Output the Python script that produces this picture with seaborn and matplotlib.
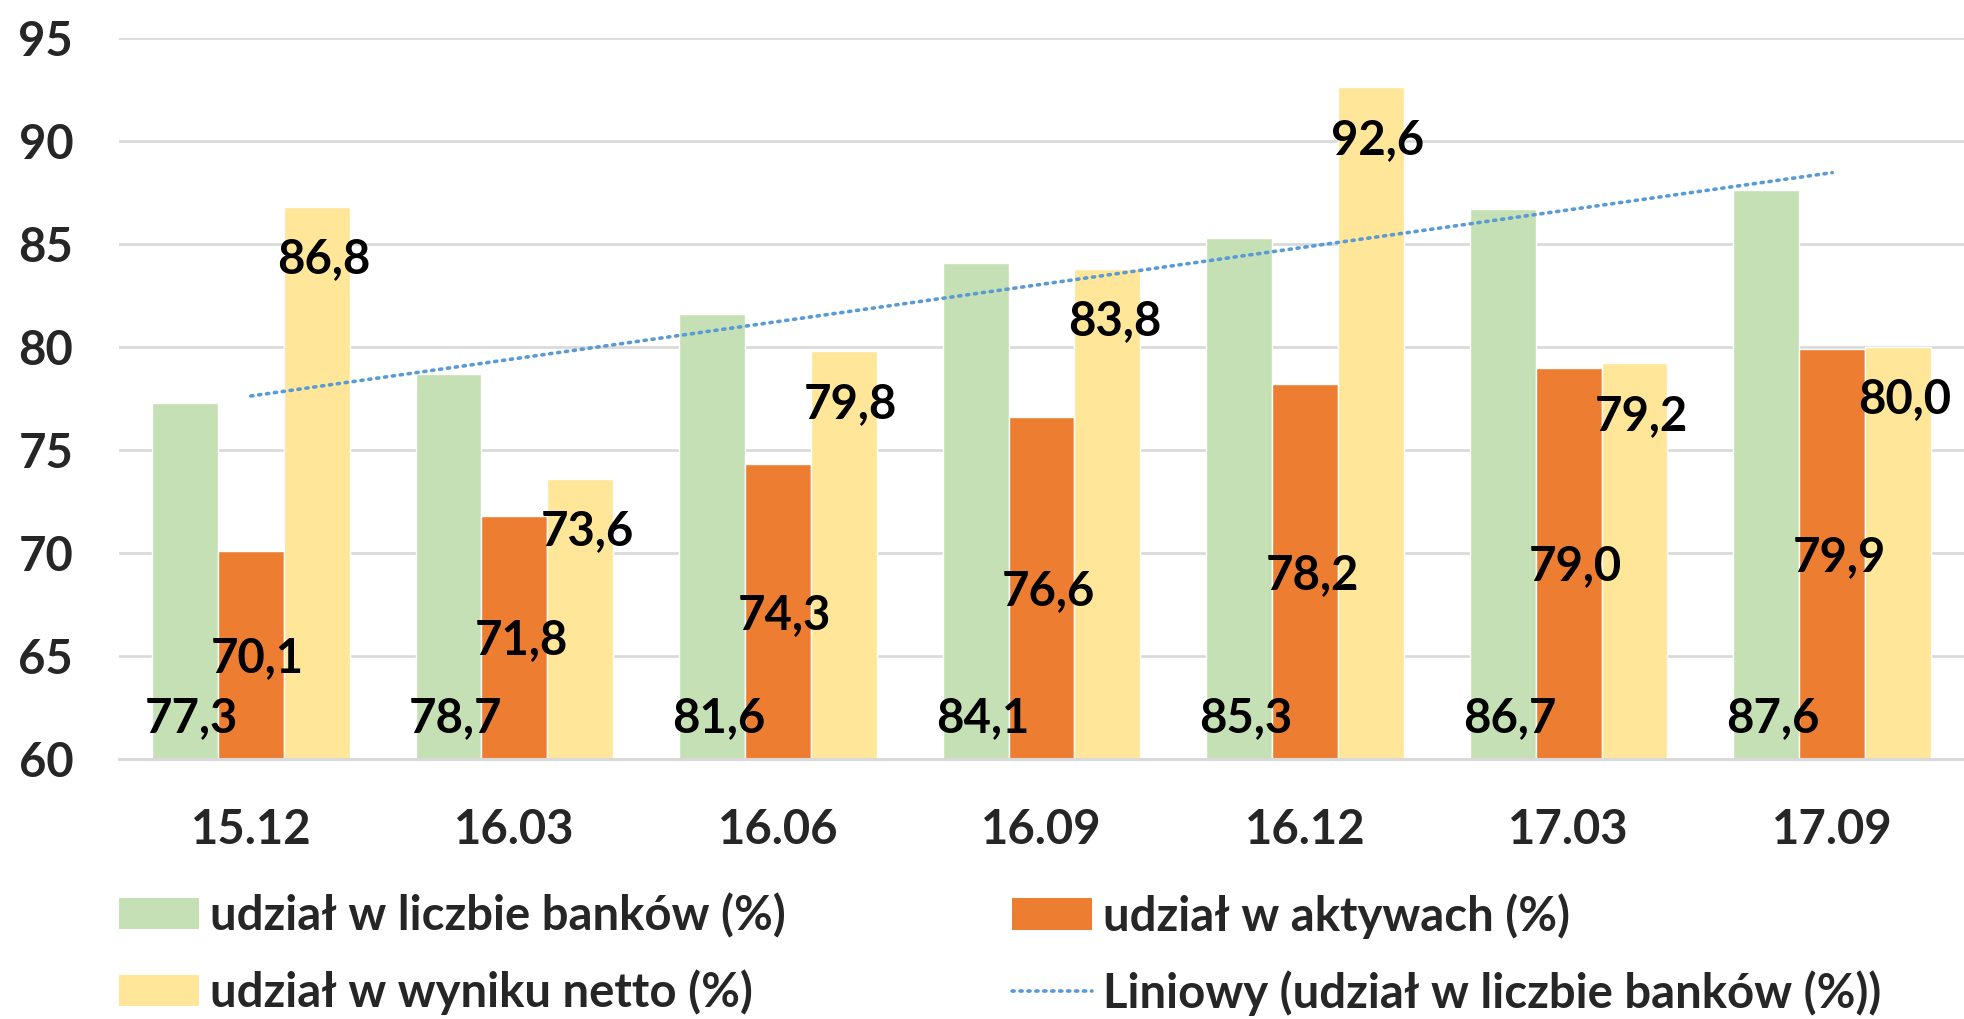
import numpy as np
import pandas as pd
import matplotlib
matplotlib.use('Agg')
import matplotlib.pyplot as plt
import seaborn as sns
from matplotlib.patches import Patch
from matplotlib.lines import Line2D

okresy = ['15.12', '16.03', '16.06', '16.09', '16.12', '17.03', '17.09']
banki = [77.3, 78.7, 81.6, 84.1, 85.3, 86.7, 87.6]
aktywa = [70.1, 71.8, 74.3, 76.6, 78.2, 79.0, 79.9]
wynik = [86.8, 73.6, 79.8, 83.8, 92.6, 79.2, 80.0]

serie = ['udział w liczbie banków (%)', 'udział w aktywach (%)', 'udział w wyniku netto (%)']
trend_label = 'Liniowy (udział w liczbie banków (%))'
kolory = ['#C5E0B4', '#ED7D31', '#FFE699']
trend_kolor = '#5B9BD5'

df = pd.DataFrame({
    'okres': okresy * 3,
    'wartosc': banki + aktywa + wynik,
    'seria': [serie[0]] * 7 + [serie[1]] * 7 + [serie[2]] * 7,
})

sns.set_style('white')
plt.rcParams['font.family'] = ['Lato', 'DejaVu Sans']
plt.rcParams['font.weight'] = 'bold'
FS = 34

fig = plt.figure(figsize=(19.64, 10.19), dpi=100)
ax = fig.add_axes([119 / 1964, 1 - 759 / 1019, 1 - 119 / 1964, (759 - 38) / 1019])

sns.barplot(data=df, x='okres', y='wartosc', hue='seria', palette=kolory,
            width=0.75, saturation=1, ax=ax, legend=False, zorder=2)

ymin = 60
ax.set_ylim(ymin, 95)
ax.set_xlim(-0.5, 6.5)
ax.set_yticks(range(60, 96, 5))
ax.set_xlabel('')
ax.set_ylabel('')
ax.yaxis.grid(True, color='#D9D9D9', linewidth=1.9, zorder=0)
ax.set_axisbelow(True)
for s in ['top', 'right', 'left']:
    ax.spines[s].set_visible(False)
ax.spines['bottom'].set_color('#D9D9D9')
ax.spines['bottom'].set_linewidth(2.2)
ax.tick_params(axis='both', length=0, labelsize=FS)
ax.tick_params(axis='y', pad=33)
ax.tick_params(axis='x', pad=35)
for t in ax.get_xticklabels() + ax.get_yticklabels():
    t.set_fontweight('bold')

# linia trendu dla udziału w liczbie banków
xs = np.arange(len(okresy))
a, b = np.polyfit(xs, banki, 1)
ax.plot(xs, a * xs + b, color=trend_kolor, lw=2.6, linestyle=(0, (0.6, 1.6)),
        dash_capstyle='round', zorder=3)

# etykiety danych
def fmt(v):
    return f'{v:.1f}'.replace('.', ',')

for i, cont in enumerate(ax.containers):
    for bar, v in zip(cont, [banki, aktywa, wynik][i]):
        cx = bar.get_x() + bar.get_width() / 2
        if i == 0:
            y = ymin + 2.0
        elif i == 1:
            y = (ymin + v) / 2 - 0.15
        else:
            y = v - 2.55
        ax.annotate(fmt(v), xy=(cx, y), xytext=(5, 0), textcoords='offset points',
                    ha='center', va='center', fontsize=FS, fontweight='bold',
                    color='black', zorder=5)

# legenda w dwóch kolumnach
leg_kw = dict(frameon=False, borderpad=0, borderaxespad=0, handlelength=1.69,
              handleheight=0.64, handletextpad=0.23, labelspacing=0.66,
              prop={'family': 'Lato', 'weight': 'bold', 'size': FS}, loc='upper left')
h1 = [Patch(facecolor=kolory[0], edgecolor='none'), Patch(facecolor=kolory[2], edgecolor='none')]
h2 = [Patch(facecolor=kolory[1], edgecolor='none'),
      Line2D([0], [0], color=trend_kolor, lw=2.6, linestyle=(0, (0.6, 1.6)), dash_capstyle='round')]
fig.legend(h1, [serie[0], serie[2]], bbox_to_anchor=(119 / 1964, 1 - 893 / 1019), **leg_kw)
fig.legend(h2, [serie[1], trend_label], bbox_to_anchor=(1012 / 1964, 1 - 893 / 1019), **leg_kw)

fig.savefig('out.png', dpi=100)
